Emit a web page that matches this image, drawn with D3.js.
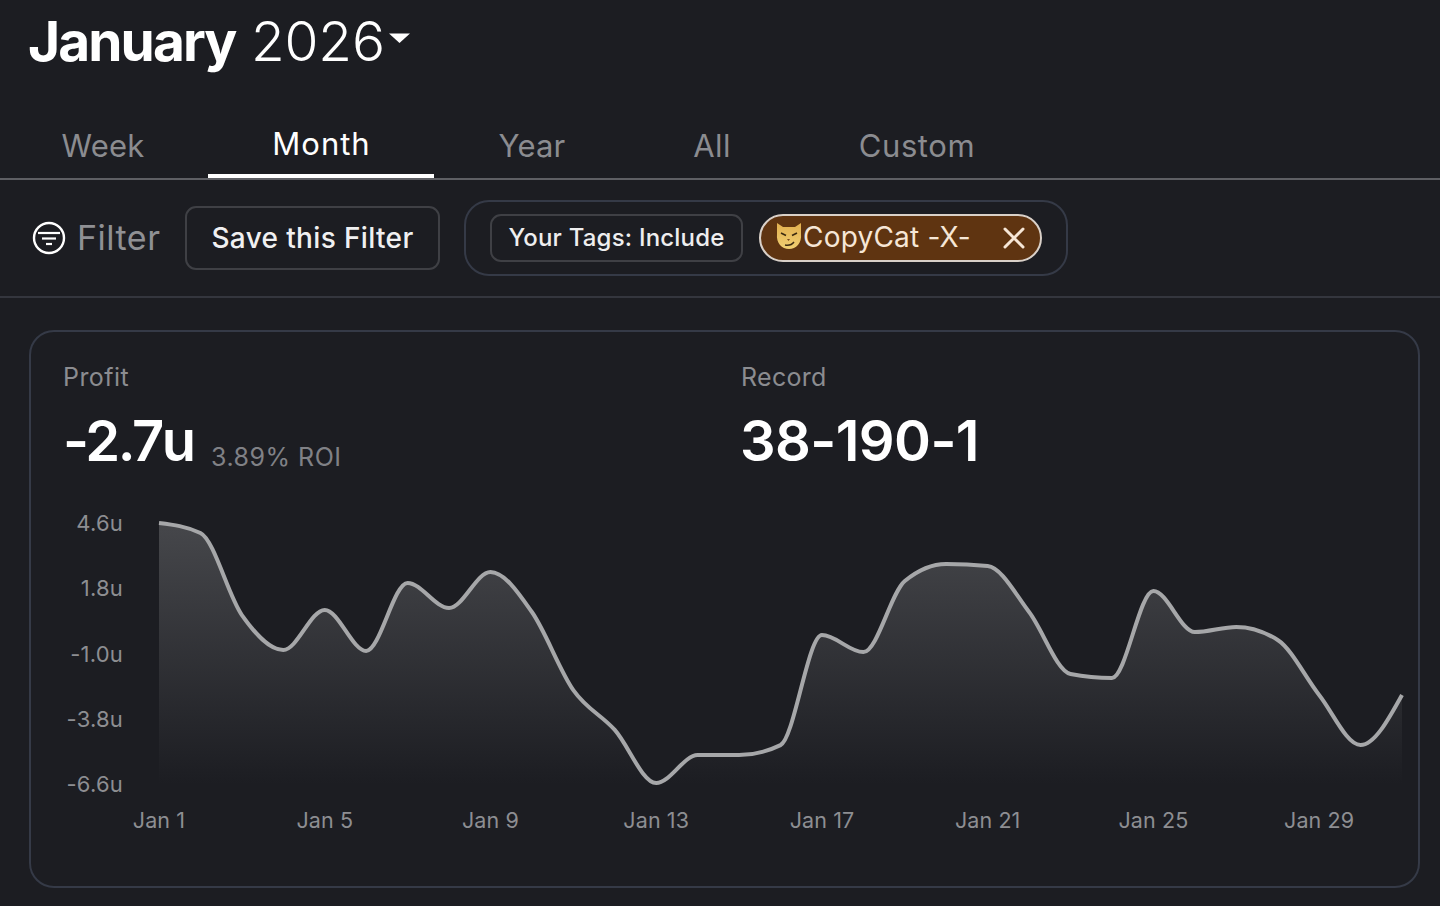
<!DOCTYPE html>
<html><head><meta charset="utf-8">
<script src="https://cdn.jsdelivr.net/npm/d3@7"></script>
<style>
html,body{margin:0;padding:0;background:#1c1d22;overflow:hidden}
svg{display:block}
text{font-family:Inter,"Noto Sans",sans-serif}
</style></head><body>
<svg id="c" width="1440" height="906"></svg>
<script>
const dayLabels = ["Jan 1","Jan 5","Jan 9","Jan 13","Jan 17","Jan 21","Jan 25","Jan 29"];
const tickDays = [1,5,9,13,17,21,25,29];
const yTicks = [4.6,1.8,-1.0,-3.8,-6.6];
const days = d3.range(1,32);
const profit = [4.6,4.17,0.65,-0.85,0.87,-0.89,2.03,0.95,2.5,0.78,-2.57,-4.28,-6.56,-5.36,-5.36,-4.93,-0.21,-0.94,2.11,2.84,2.75,0.78,-1.88,-2.05,1.68,-0.08,0.14,-0.42,-2.78,-4.93,-2.78];
const tabs = ["Week","Month","Year","All","Custom"];

const svg = d3.select("#c");
const defs = svg.append("defs");
const grad = defs.append("linearGradient").attr("id","fillg").attr("x1",0).attr("x2",0).attr("y1",0).attr("y2",1);
grad.append("stop").attr("offset","0%").attr("stop-color","#46474b");
grad.append("stop").attr("offset","100%").attr("stop-color","#1c1d22");
const catG = defs.append("linearGradient").attr("id","catg").attr("x1",0).attr("x2",0).attr("y1",0).attr("y2",1);
catG.append("stop").attr("offset","0%").attr("stop-color","#e3b04f");
catG.append("stop").attr("offset","100%").attr("stop-color","#f0cf72");

function txt(x,y,s,size,weight,fill,anchor,ls){
  return svg.append("text").attr("x",x).attr("y",y).text(s).attr("font-size",size).attr("font-weight",weight)
    .attr("fill",fill).attr("text-anchor",anchor||"start").attr("letter-spacing",ls||0);
}
// title
txt(28,61,"January",55,700,"#ffffff","start","-1.9px");
txt(251,61,"2026",55,300,"#ffffff","start","-0.2px");
svg.append("path").attr("d","M389 33.5h21l-10.5 9.5z").attr("fill","#fff");

// tabs
const tabX=[103,321.5,532,712,917], tabY=[157,155,157,157,157], tabLs=[0.2,1,0.2,0.4,0.6];
tabs.forEach((t,i)=>txt(tabX[i],tabY[i],t,31,400,i===1?"#fff":"#8b8c90","middle",tabLs[i]+"px"));
svg.append("rect").attr("x",0).attr("y",178).attr("width",1440).attr("height",2).attr("fill","#5e5f64");
svg.append("rect").attr("x",208).attr("y",174).attr("width",226).attr("height",4).attr("fill","#fff");

// filter row
svg.append("circle").attr("cx",49).attr("cy",238).attr("r",15).attr("fill","none").attr("stroke","#fff").attr("stroke-width",2.4);
[[38,60,233],[42,56,238.5],[46,52,244]].forEach(d=>svg.append("line").attr("x1",d[0]).attr("x2",d[1]).attr("y1",d[2]).attr("y2",d[2]).attr("stroke","#fff").attr("stroke-width",2.2));
txt(77,250,"Filter",34,400,"#8f9094","start","0.5px");
svg.append("rect").attr("x",186).attr("y",207).attr("width",253).attr("height",62).attr("rx",10).attr("fill","none").attr("stroke","#3f4045").attr("stroke-width",2);
txt(312.5,247.5,"Save this Filter",28,500,"#f0f0f1","middle","0.35px");
svg.append("rect").attr("x",465).attr("y",201).attr("width",602).attr("height",74).attr("rx",24).attr("fill","none").attr("stroke","#353a47").attr("stroke-width",2);
svg.append("rect").attr("x",491).attr("y",215).attr("width",251).attr("height",46).attr("rx",10).attr("fill","none").attr("stroke","#3f4045").attr("stroke-width",2);
txt(616.5,246,"Your Tags: Include",24,500,"#eeeeef","middle","0.2px");
svg.append("rect").attr("x",760).attr("y",215).attr("width",281).attr("height",46).attr("rx",23).attr("fill","#5f3411").attr("stroke","#d9d0c8").attr("stroke-width",2);
// cat face icon
const cat = svg.append("g");
cat.append("path").attr("d","M777 223l6 4h12l6-4 0 11c1 9-5 15-12 15s-13-6-12-15z").attr("fill","url(#catg)");
cat.append("path").attr("d","M781 233l5 2.5M797 233l-5 2.5").attr("stroke","#3b2a10").attr("stroke-width",1.6).attr("fill","none");
cat.append("path").attr("d","M787 239h3l-1.5 2z").attr("fill","#7a4a20");
cat.append("path").attr("d","M785 245q6 1 9-3").attr("stroke","#3b2a10").attr("stroke-width",1.5).attr("fill","none");
txt(803,247,"CopyCat -X-",28,400,"#f6e6d6","start","0.2px");
svg.append("path").attr("d","M1005 229l18 18M1023 229l-18 18").attr("stroke","#f6e6d6").attr("stroke-width",3).attr("stroke-linecap","round");
svg.append("rect").attr("x",0).attr("y",296).attr("width",1440).attr("height",2).attr("fill","#34363e");

// card
svg.append("rect").attr("x",30).attr("y",331).attr("width",1389).attr("height",556).attr("rx",24).attr("fill","none").attr("stroke","#353a47").attr("stroke-width",2);
txt(63,386,"Profit",25,400,"#8b8c90","start","0.45px");
txt(741,386,"Record",25,400,"#8b8c90","start","0.3px");
txt(63,461,"-2.7u",56,600,"#ffffff","start","-2.4px");
txt(211,466,"3.89% ROI",25,400,"#808186","start","0.5px");
txt(740,461,"38-190-1",56,600,"#ffffff","start","-0.6px");

// chart
const x = d3.scaleLinear().domain([1,31]).range([159,1402]);
const y = d3.scaleLinear().domain([4.6,-6.6]).range([523,784]);
const area = d3.area().x((d,i)=>x(days[i])).y0(y(-6.6)).y1(d=>y(d)).curve(d3.curveMonotoneX);
const line = d3.line().x((d,i)=>x(days[i])).y(d=>y(d)).curve(d3.curveMonotoneX);
svg.append("path").datum(profit).attr("d",area).attr("fill","url(#fillg)");
svg.append("path").datum(profit).attr("d",line).attr("fill","none").attr("stroke","#a6a7a9").attr("stroke-width",4).attr("stroke-linejoin","round");

const yAxis = svg.append("g").attr("transform","translate(123,0.5)")
  .call(d3.axisLeft(y).tickValues(yTicks).tickSize(0).tickPadding(0).tickFormat(d=>d3.format(".1f")(d).replace("−","-")+"u"));
const xAxis = svg.append("g").attr("transform","translate(-0.5,813)")
  .call(d3.axisBottom(x).tickValues(tickDays).tickSize(0).tickPadding(0).tickFormat((d,i)=>dayLabels[i]));
svg.selectAll(".domain").remove();
yAxis.selectAll(".tick text").attr("fill","#8d8e92").attr("font-size",22).attr("font-family","Inter,sans-serif").attr("letter-spacing","0.2px");
xAxis.selectAll(".tick text").attr("fill","#8d8e92").attr("font-size",21.5).attr("font-family","Inter,sans-serif").attr("letter-spacing","0.1px");
</script>
</body></html>
